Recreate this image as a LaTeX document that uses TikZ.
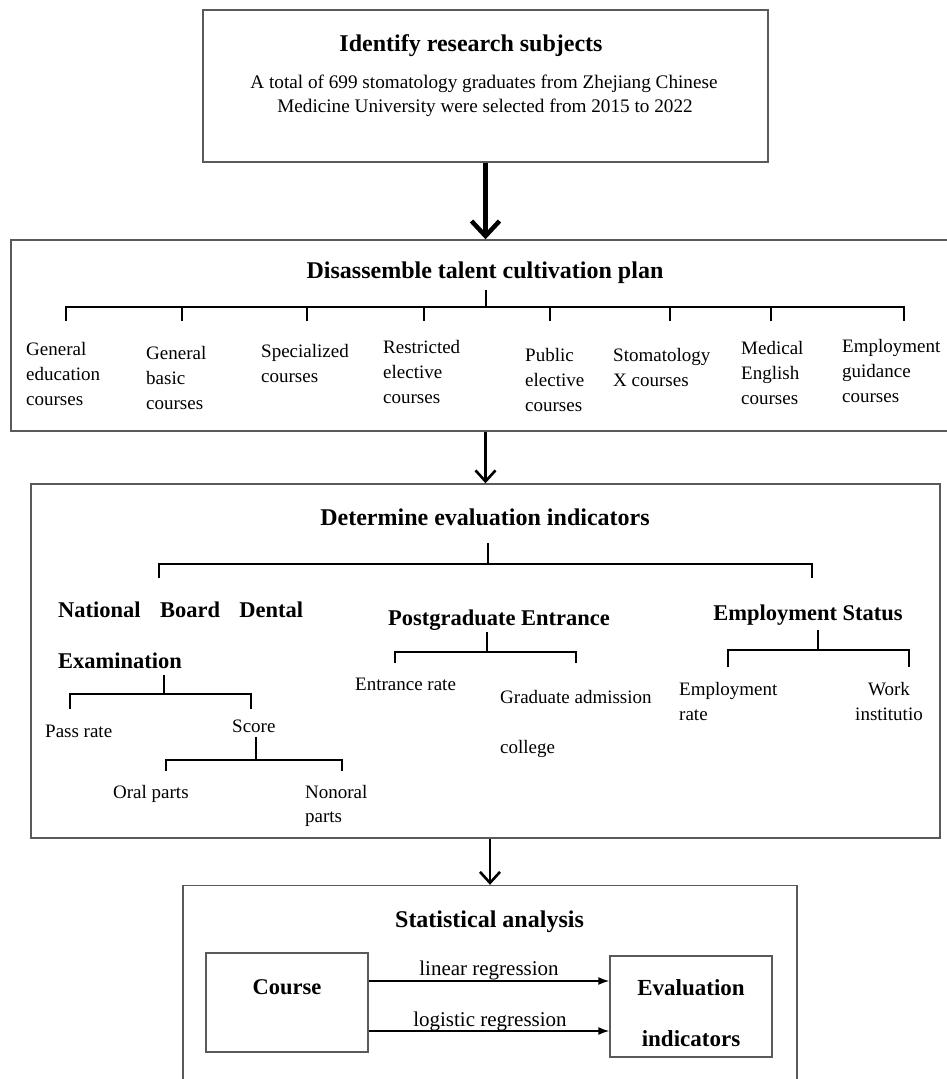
\documentclass[tikz,border=0pt]{standalone}
\usepackage{fontspec}
\setmainfont{Liberation Serif}
\usetikzlibrary{arrows.meta,calc}
\definecolor{boxgray}{HTML}{5A5A5A}
\newcommand\fsBody{\fontsize{19}{25}\selectfont}
\newcommand\fsTop{\fontsize{19.2}{24}\selectfont}
\newcommand\fsHead{\fontsize{24}{28}\selectfont\bfseries}
\newcommand\fsSub{\fontsize{22.5}{28}\selectfont\bfseries}
\newcommand\fsReg{\fontsize{21}{25}\selectfont}
\begin{document}
\begin{tikzpicture}[x=1pt,y=-1pt,
  box/.style={draw=boxgray, line width=1.4pt, inner sep=0pt},
  br/.style={line width=2.8pt, line join=miter},
  hd/.style={font=\fsHead, inner sep=0pt, anchor=base},
  sub/.style={font=\fsSub, inner sep=0pt, anchor=base west},
  lbl/.style={font=\fsBody, inner sep=0pt, anchor=base west, align=left},
  bigarr/.style={line width=4.5pt, -{Straight Barb[length=15pt,width=28pt]}},
  midarr/.style={line width=2.6pt, -{Straight Barb[length=11pt,width=20pt]}},
  smarr/.style={line width=1.6pt, -{Latex[length=11pt,width=8pt]}}]
\useasboundingbox (0,0) rectangle (947,1079);
\clip (0,0) rectangle (947,1079);

% ---------- box 1
\node[box, minimum width=565pt, minimum height=152pt] (b1) at (485.5,86) {};
\node[hd] (t1) at (471,51.5) {Identify research subjects};
\node[font=\fsTop, inner sep=0pt, anchor=base] (t1a) at (484,88) {A total of 699 stomatology graduates from Zhejiang Chinese};
\node[font=\fsTop, inner sep=0pt, anchor=base] (t1b) at (485,112) {Medicine University were selected from 2015 to 2022};

% ---------- box 2
\node[box, minimum width=989pt, minimum height=191pt] (b2) at (505.5,335.5) {};
\node[hd] (t2) at (485,278) {Disassemble talent cultivation plan};
\draw[br] (486,290) -- (486,307);
\draw[br] (66,321) -- (66,307) -- (904,307) -- (904,321);
\foreach \x in {182,307,424,550,670,771} \draw[br] (\x,307) -- (\x,321);
% (base anchor of a multi-line node = baseline of its last line)
\node[lbl] (c1) at (26,405) {General\\education\\courses};
\node[lbl] (c2) at (146,409) {General\\basic\\courses};
\node[lbl] (c3) at (261,382) {Specialized\\courses};
\node[lbl] (c4) at (383,403) {Restricted\\elective\\courses};
\node[lbl] (c5) at (525,411) {Public\\elective\\courses};
\node[lbl] (c6) at (613,386) {Stomatology\\X courses};
\node[lbl] (c7) at (741,404) {Medical\\English\\courses};
\node[lbl] (c8) at (842,402) {Employment\\guidance\\courses};

% ---------- box 3
\node[box, minimum width=909pt, minimum height=354pt] (b3) at (485.5,661) {};
\node[hd] (t3) at (485,525.5) {Determine evaluation indicators};
\draw[br] (488,543) -- (488,564);
\draw[br] (159,578) -- (159,564) -- (812,564) -- (812,578);

\node[sub] (nb) at (58,617) {\makebox[245pt][s]{National Board Dental}};
\node[sub] (ex) at (58,668) {Examination};
\draw[br] (164,675) -- (164,694);
\draw[br] (70,709) -- (70,694) -- (251,694) -- (251,709);
\node[lbl] (pr) at (45,737) {Pass rate};
\node[lbl] (sc) at (232,732) {Score};
\draw[br] (256,737) -- (256,760);
\draw[br] (166,771) -- (166,760) -- (342,760) -- (342,771);
\node[lbl] (op) at (113,798) {Oral parts};
\node[lbl, font=\fontsize{19}{24}\selectfont] (np) at (305,822) {Nonoral\\parts};

\node[font=\fsSub, inner sep=0pt, anchor=base] (pg) at (499,625) {Postgraduate Entrance};
\draw[br] (487,632) -- (487,652);
\draw[br] (395,663) -- (395,652) -- (576,652) -- (576,663);
\node[lbl] (er) at (355,690) {Entrance rate};
\node[lbl] (ga) at (500,703) {Graduate admission};
\node[lbl] (cg) at (500,753) {college};

\node[font=\fsSub, inner sep=0pt, anchor=base] (es) at (808,620) {Employment Status};
\draw[br] (818,630) -- (818,650);
\draw[br] (728,667) -- (728,650) -- (909,650) -- (909,667);
\node[lbl] (emr) at (679,720) {Employment\\rate};
\node[font=\fsBody, inner sep=0pt, anchor=base, align=center] (wi) at (889,720) {Work\\institutio};

% ---------- box 4
\node[box, minimum width=614pt, minimum height=260pt] (b4) at (490,1015.5) {};
\node[hd] (t4) at (489.5,927) {Statistical analysis};
\node[box, minimum width=162pt, minimum height=99pt] (course) at (287,1002.5) {};
\node[font=\fsSub, inner sep=0pt, anchor=base] (coursel) at (287,994) {Course};
\node[box, minimum width=162pt, minimum height=101pt] (eval) at (691,1006.5) {};
\node[font=\fontsize{23}{51}\selectfont\bfseries, inner sep=0pt, anchor=base, align=center] (evall) at (691,1046) {Evaluation\\indicators};
\draw[smarr] ([yshift=21.5pt]course.east) -- ([yshift=21.5pt]course.east -| eval.west);
\draw[smarr] ([yshift=-28.5pt]course.east) -- ([yshift=-28.5pt]course.east -| eval.west);
\node[font=\fsReg, inner sep=0pt, anchor=base] (lin) at (489,975) {linear regression};
\node[font=\fsReg, inner sep=0pt, anchor=base] (log) at (490,1026) {logistic regression};

% ---------- main arrows
\draw[bigarr] (b1.south) -- (b1.south |- b2.north);
\draw[midarr] (b1.south |- b2.south) -- (b1.south |- b3.north);
\draw[midarr] (b4.north |- b3.south) -- (b4.north);
\end{tikzpicture}
\end{document}
